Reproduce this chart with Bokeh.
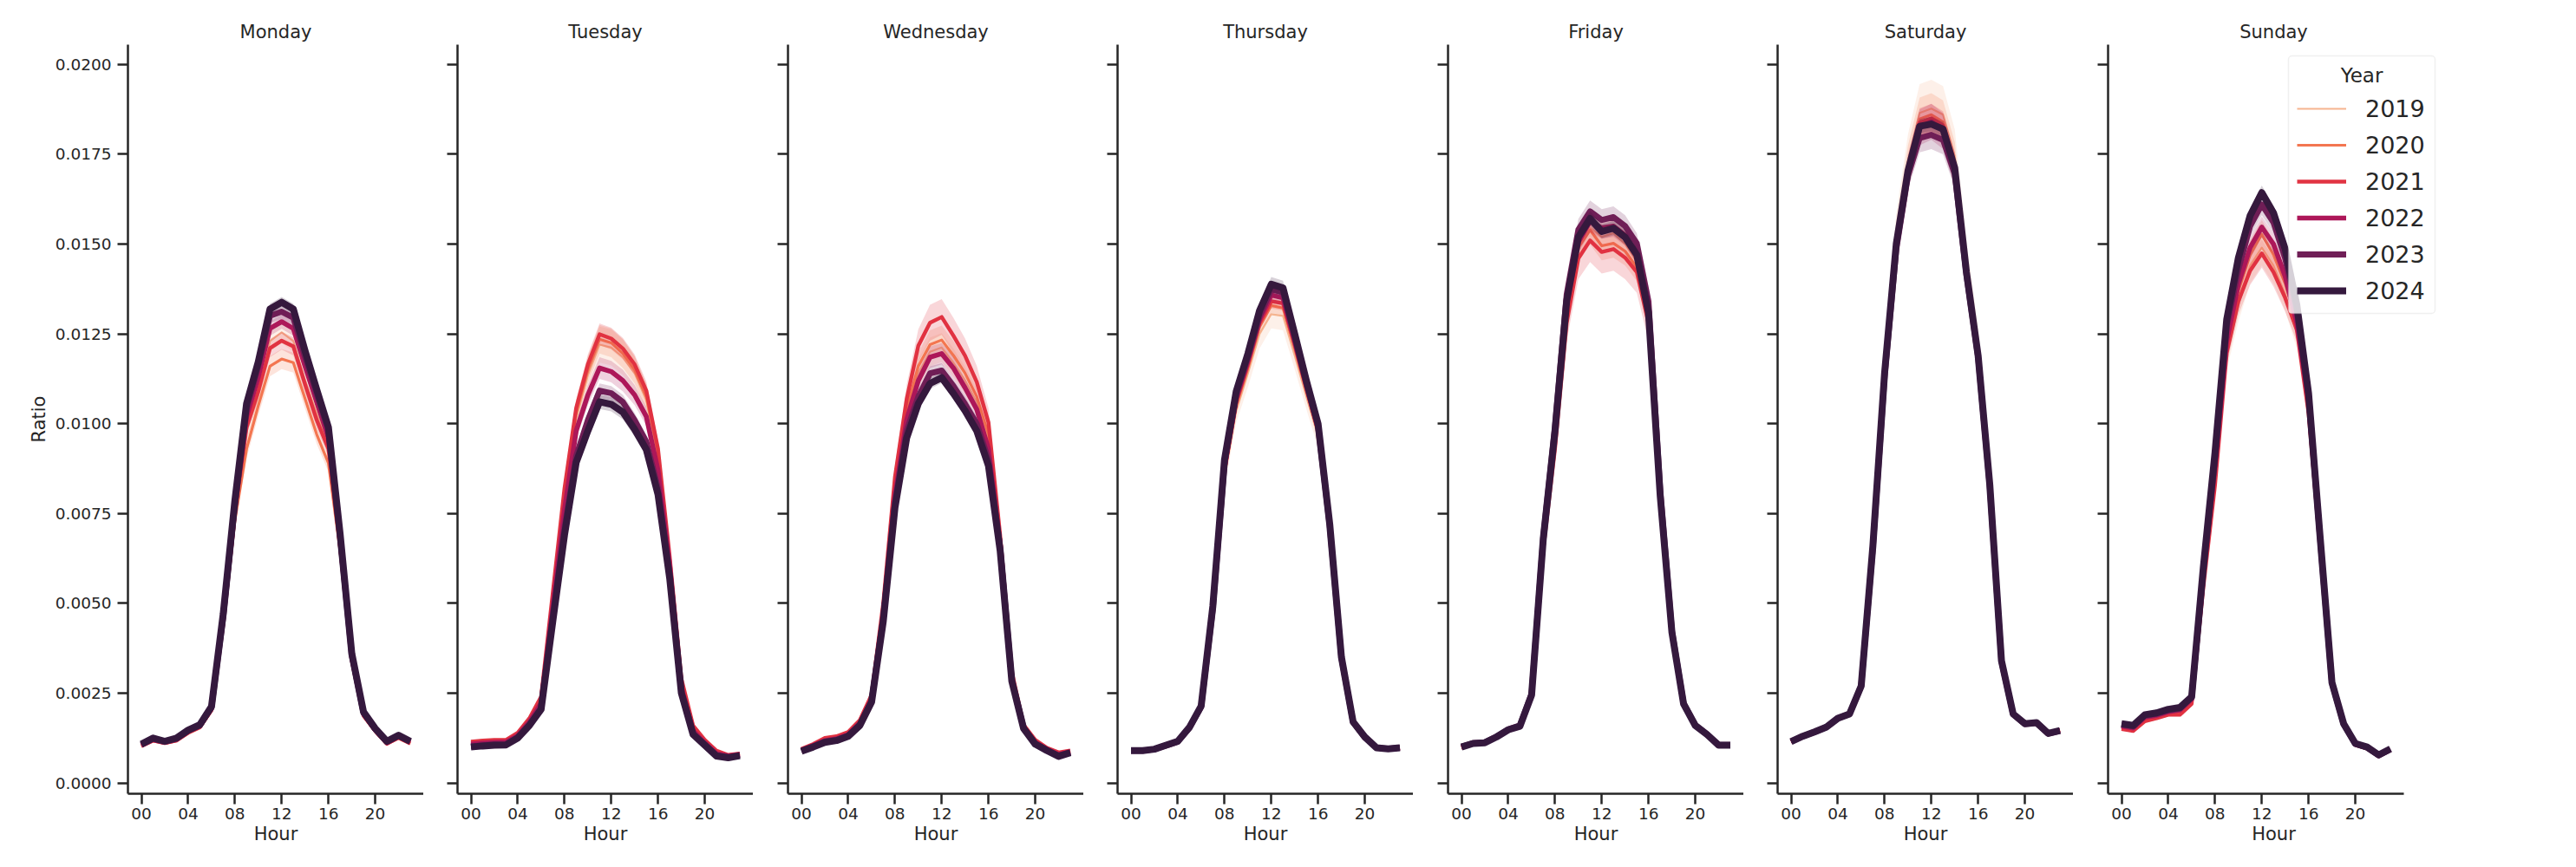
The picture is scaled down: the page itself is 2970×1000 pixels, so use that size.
from bokeh.plotting import figure
from bokeh.layouts import row
from bokeh.models import (Range1d, FixedTicker, PrintfTickFormatter, Legend, LegendItem,
                          Label, BoxAnnotation)
from bokeh.embed import file_html
from bokeh.resources import INLINE

HOURS = list(range(24))
YEARS = [2019, 2020, 2021, 2022, 2023, 2024]
DAYS = ["Monday", "Tuesday", "Wednesday", "Thursday", "Friday", "Saturday", "Sunday"]
COLORS = ["#f6b48f", "#f37651", "#e13342", "#ad1759", "#701f57", "#35193e"]
WIDTHS = [2.2, 3.2, 4.4, 5.6, 6.8, 8.0]
X_TICKS = [0, 4, 8, 12, 16, 20]
X_LABELS = ["00", "04", "08", "12", "16", "20"]
Y_TICKS = [0.0, 0.0025, 0.005, 0.0075, 0.01, 0.0125, 0.015, 0.0175, 0.02]

MONDAY = {
    2019: [0.00104,0.00119,0.00112,0.00119,0.00141,0.00156,0.00204,0.00440,0.00745,0.00980,0.01080,0.01230,0.01254,0.01230,0.01120,0.01030,0.00940,0.00665,0.00345,0.00190,0.00146,0.00110,0.00127,0.00111],
    2020: [0.00102,0.00117,0.00110,0.00117,0.00138,0.00153,0.00200,0.00435,0.00730,0.00930,0.01050,0.01160,0.01180,0.01170,0.01070,0.00970,0.00890,0.00645,0.00335,0.00185,0.00143,0.00108,0.00124,0.00109],
    2021: [0.00103,0.00118,0.00111,0.00118,0.00140,0.00155,0.00203,0.00445,0.00750,0.00990,0.01090,0.01210,0.01231,0.01215,0.01110,0.01010,0.00930,0.00660,0.00342,0.00188,0.00145,0.00109,0.00126,0.00110],
    2022: [0.00105,0.00121,0.00113,0.00121,0.00143,0.00158,0.00207,0.00455,0.00765,0.01020,0.01130,0.01265,0.01284,0.01265,0.01160,0.01060,0.00960,0.00675,0.00350,0.00192,0.00148,0.00112,0.00129,0.00113],
    2023: [0.00106,0.00123,0.00115,0.00123,0.00145,0.00160,0.00210,0.00462,0.00775,0.01040,0.01160,0.01300,0.01312,0.01295,0.01185,0.01080,0.00980,0.00685,0.00355,0.00195,0.00150,0.00114,0.00131,0.00115],
    2024: [0.00108,0.00125,0.00116,0.00125,0.00147,0.00162,0.00213,0.00470,0.00786,0.01056,0.01172,0.01319,0.01338,0.01319,0.01203,0.01095,0.00990,0.00693,0.00360,0.00198,0.00152,0.00116,0.00133,0.00116],
}
TUESDAY = {
    2019: [0.00112,0.00115,0.00117,0.00117,0.00137,0.00176,0.00233,0.00515,0.00800,0.01015,0.01135,0.01220,0.01212,0.01185,0.01140,0.01065,0.00905,0.00620,0.00282,0.00156,0.00117,0.00087,0.00076,0.00080],
    2020: [0.00113,0.00116,0.00118,0.00118,0.00138,0.00178,0.00236,0.00520,0.00810,0.01030,0.01150,0.01235,0.01225,0.01195,0.01150,0.01075,0.00915,0.00625,0.00285,0.00158,0.00118,0.00088,0.00077,0.00081],
    2021: [0.00115,0.00118,0.00120,0.00120,0.00140,0.00180,0.00240,0.00530,0.00820,0.01044,0.01165,0.01249,0.01237,0.01209,0.01165,0.01092,0.00930,0.00630,0.00290,0.00160,0.00120,0.00090,0.00078,0.00082],
    2022: [0.00108,0.00111,0.00113,0.00114,0.00132,0.00170,0.00222,0.00490,0.00760,0.00980,0.01080,0.01155,0.01145,0.01120,0.01080,0.01020,0.00870,0.00605,0.00265,0.00145,0.00112,0.00082,0.00075,0.00080],
    2023: [0.00102,0.00105,0.00107,0.00108,0.00127,0.00163,0.00210,0.00465,0.00710,0.00910,0.01010,0.01092,0.01085,0.01060,0.01010,0.00950,0.00820,0.00580,0.00255,0.00138,0.00107,0.00077,0.00072,0.00078],
    2024: [0.00100,0.00103,0.00105,0.00106,0.00125,0.00160,0.00205,0.00450,0.00690,0.00892,0.00980,0.01061,0.01054,0.01032,0.00984,0.00928,0.00803,0.00570,0.00250,0.00135,0.00105,0.00075,0.00070,0.00076],
}
WEDNESDAY = {
    2019: [0.00092,0.00105,0.00120,0.00125,0.00137,0.00169,0.00237,0.00485,0.00820,0.01025,0.01140,0.01200,0.01212,0.01170,0.01120,0.01060,0.00955,0.00675,0.00298,0.00158,0.00115,0.00095,0.00081,0.00088],
    2020: [0.00093,0.00106,0.00122,0.00127,0.00139,0.00171,0.00240,0.00490,0.00830,0.01040,0.01160,0.01220,0.01233,0.01190,0.01140,0.01075,0.00970,0.00680,0.00302,0.00160,0.00117,0.00096,0.00083,0.00089],
    2021: [0.00095,0.00108,0.00125,0.00130,0.00142,0.00175,0.00245,0.00500,0.00851,0.01068,0.01217,0.01281,0.01297,0.01245,0.01189,0.01116,0.01004,0.00690,0.00310,0.00162,0.00120,0.00098,0.00085,0.00090],
    2022: [0.00091,0.00104,0.00118,0.00123,0.00135,0.00167,0.00233,0.00470,0.00800,0.01010,0.01120,0.01185,0.01195,0.01155,0.01100,0.01040,0.00930,0.00665,0.00292,0.00156,0.00113,0.00094,0.00079,0.00087],
    2023: [0.00089,0.00102,0.00115,0.00120,0.00132,0.00163,0.00228,0.00458,0.00780,0.00980,0.01075,0.01140,0.01148,0.01105,0.01055,0.01000,0.00900,0.00655,0.00287,0.00154,0.00110,0.00092,0.00076,0.00085],
    2024: [0.00088,0.00100,0.00113,0.00118,0.00130,0.00160,0.00225,0.00450,0.00766,0.00960,0.01056,0.01112,0.01128,0.01084,0.01036,0.00980,0.00883,0.00647,0.00283,0.00152,0.00108,0.00090,0.00074,0.00084],
}
THURSDAY = {
    2019: [0.00088,0.00088,0.00092,0.00102,0.00113,0.00150,0.00207,0.00462,0.00850,0.01035,0.01140,0.01250,0.01305,0.01300,0.01190,0.01075,0.00965,0.00700,0.00340,0.00165,0.00124,0.00096,0.00093,0.00096],
    2020: [0.00088,0.00088,0.00092,0.00103,0.00114,0.00151,0.00208,0.00470,0.00862,0.01050,0.01155,0.01270,0.01329,0.01322,0.01210,0.01090,0.00975,0.00705,0.00342,0.00166,0.00125,0.00096,0.00093,0.00096],
    2021: [0.00089,0.00089,0.00093,0.00103,0.00114,0.00152,0.00210,0.00475,0.00870,0.01060,0.01165,0.01280,0.01341,0.01335,0.01220,0.01098,0.00980,0.00708,0.00344,0.00167,0.00126,0.00097,0.00094,0.00097],
    2022: [0.00089,0.00089,0.00093,0.00104,0.00115,0.00153,0.00211,0.00480,0.00880,0.01070,0.01175,0.01290,0.01358,0.01350,0.01230,0.01105,0.00987,0.00712,0.00346,0.00168,0.00126,0.00097,0.00094,0.00097],
    2023: [0.00090,0.00090,0.00094,0.00104,0.00115,0.00154,0.00212,0.00485,0.00890,0.01080,0.01185,0.01300,0.01374,0.01365,0.01240,0.01112,0.00993,0.00715,0.00348,0.00169,0.00127,0.00098,0.00095,0.00098],
    2024: [0.00090,0.00090,0.00094,0.00105,0.00116,0.00155,0.00214,0.00492,0.00900,0.01090,0.01195,0.01315,0.01388,0.01378,0.01250,0.01120,0.01000,0.00720,0.00350,0.00170,0.00128,0.00098,0.00095,0.00098],
}
FRIDAY = {
    2019: [0.00099,0.00109,0.00111,0.00127,0.00146,0.00156,0.00242,0.00665,0.00950,0.01310,0.01500,0.01545,0.01520,0.01530,0.01500,0.01450,0.01300,0.00790,0.00415,0.00218,0.00158,0.00133,0.00104,0.00104],
    2020: [0.00099,0.00109,0.00111,0.00127,0.00146,0.00156,0.00242,0.00660,0.00945,0.01300,0.01490,0.01539,0.01495,0.01502,0.01480,0.01435,0.01290,0.00785,0.00413,0.00217,0.00158,0.00133,0.00104,0.00104],
    2021: [0.00098,0.00108,0.00110,0.00126,0.00145,0.00155,0.00240,0.00650,0.00930,0.01280,0.01460,0.01510,0.01478,0.01486,0.01462,0.01422,0.01280,0.00780,0.00410,0.00216,0.00157,0.00132,0.00103,0.00103],
    2022: [0.00100,0.00110,0.00112,0.00128,0.00147,0.00157,0.00244,0.00675,0.00970,0.01330,0.01505,0.01563,0.01545,0.01550,0.01525,0.01475,0.01320,0.00800,0.00418,0.00219,0.00159,0.00134,0.00104,0.00104],
    2023: [0.00101,0.00111,0.00113,0.00129,0.00149,0.00160,0.00248,0.00685,0.00990,0.01360,0.01540,0.01591,0.01567,0.01575,0.01550,0.01502,0.01340,0.00815,0.00425,0.00222,0.00161,0.00136,0.00106,0.00106],
    2024: [0.00100,0.00110,0.00112,0.00128,0.00148,0.00158,0.00245,0.00680,0.00980,0.01341,0.01519,0.01571,0.01535,0.01544,0.01519,0.01470,0.01309,0.00800,0.00420,0.00220,0.00160,0.00135,0.00105,0.00105],
}
SATURDAY = {
    2019: [0.00115,0.00130,0.00142,0.00155,0.00180,0.00192,0.00270,0.00668,0.01155,0.01520,0.01730,0.01865,0.01877,0.01860,0.01745,0.01445,0.01210,0.00845,0.00346,0.00195,0.00167,0.00170,0.00140,0.00148],
    2020: [0.00115,0.00130,0.00142,0.00155,0.00180,0.00192,0.00270,0.00665,0.01150,0.01510,0.01718,0.01848,0.01860,0.01840,0.01728,0.01435,0.01200,0.00840,0.00344,0.00194,0.00166,0.00169,0.00139,0.00147],
    2021: [0.00115,0.00130,0.00142,0.00155,0.00180,0.00192,0.00270,0.00662,0.01145,0.01505,0.01710,0.01838,0.01850,0.01830,0.01720,0.01428,0.01195,0.00835,0.00342,0.00193,0.00166,0.00169,0.00139,0.00147],
    2022: [0.00115,0.00130,0.00142,0.00155,0.00180,0.00192,0.00270,0.00658,0.01135,0.01495,0.01700,0.01825,0.01840,0.01815,0.01705,0.01420,0.01188,0.00828,0.00339,0.00192,0.00165,0.00168,0.00138,0.00146],
    2023: [0.00115,0.00130,0.00142,0.00155,0.00180,0.00192,0.00270,0.00655,0.01130,0.01485,0.01690,0.01795,0.01804,0.01790,0.01695,0.01415,0.01185,0.00825,0.00338,0.00191,0.00164,0.00167,0.00137,0.00145],
    2024: [0.00115,0.00130,0.00142,0.00155,0.00180,0.00192,0.00270,0.00660,0.01140,0.01500,0.01703,0.01828,0.01834,0.01820,0.01712,0.01422,0.01190,0.00830,0.00340,0.00192,0.00165,0.00168,0.00138,0.00146],
}
SUNDAY = {
    2019: [0.00153,0.00148,0.00176,0.00183,0.00193,0.00196,0.00225,0.00555,0.00845,0.01190,0.01330,0.01440,0.01490,0.01440,0.01360,0.01250,0.01030,0.00655,0.00272,0.00161,0.00107,0.00097,0.00076,0.00092],
    2020: [0.00155,0.00150,0.00178,0.00185,0.00195,0.00198,0.00228,0.00565,0.00860,0.01220,0.01370,0.01470,0.01527,0.01470,0.01390,0.01280,0.01050,0.00660,0.00273,0.00162,0.00107,0.00097,0.00076,0.00092],
    2021: [0.00150,0.00145,0.00172,0.00180,0.00190,0.00190,0.00220,0.00545,0.00830,0.01197,0.01341,0.01426,0.01474,0.01422,0.01350,0.01261,0.01030,0.00650,0.00270,0.00160,0.00106,0.00096,0.00075,0.00091],
    2022: [0.00158,0.00153,0.00183,0.00188,0.00198,0.00203,0.00233,0.00575,0.00880,0.01230,0.01390,0.01490,0.01547,0.01500,0.01410,0.01280,0.01060,0.00668,0.00276,0.00163,0.00108,0.00098,0.00076,0.00093],
    2023: [0.00162,0.00157,0.00187,0.00192,0.00202,0.00207,0.00237,0.00590,0.00905,0.01270,0.01430,0.01550,0.01610,0.01560,0.01460,0.01310,0.01080,0.00675,0.00278,0.00164,0.00109,0.00099,0.00077,0.00094],
    2024: [0.00165,0.00160,0.00190,0.00195,0.00205,0.00210,0.00240,0.00600,0.00920,0.01290,0.01462,0.01579,0.01643,0.01587,0.01486,0.01330,0.01085,0.00680,0.00280,0.00165,0.00110,0.00100,0.00078,0.00095],
}

# 95% confidence half-widths, in units of CI_UNIT
CI_UNIT = 1e-5
MONDAY_CI = {
    2019: [4,4,4,4,5,5,6,12,22,28,30,30,30,30,30,28,26,18,9,5,4,4,4,4],
    2020: [4,4,4,4,5,5,6,12,20,26,28,28,28,28,28,26,24,16,9,5,4,4,4,4],
    2021: [3,3,3,3,4,4,5,10,18,22,24,25,25,25,24,22,20,14,8,4,3,3,3,3],
    2022: [3,3,3,3,4,4,5,9,15,18,20,20,20,20,20,18,17,12,7,4,3,3,3,3],
    2023: [3,3,3,3,4,4,5,9,15,18,20,20,20,20,20,18,17,12,7,4,3,3,3,3],
    2024: [3,3,3,3,3,4,4,8,12,14,15,15,15,15,15,14,13,10,6,3,3,3,3,3],
}
TUESDAY_CI = {
    2019: [5,5,5,5,5,6,7,15,30,40,48,50,50,50,48,45,40,25,10,6,5,4,4,4],
    2020: [4,4,4,4,5,5,6,13,26,34,38,40,40,40,38,36,32,20,9,5,4,4,4,4],
    2021: [4,4,4,4,4,5,6,11,20,26,28,30,30,30,28,26,24,16,8,5,4,3,3,3],
    2022: [3,3,3,3,4,4,5,10,18,24,28,30,30,30,28,26,22,14,7,4,3,3,3,3],
    2023: [3,3,3,3,3,4,5,9,15,18,20,20,20,20,20,18,16,12,6,4,3,3,3,3],
    2024: [3,3,3,3,3,4,4,8,14,18,20,20,20,20,20,18,15,11,6,3,3,3,3,3],
}
WEDNESDAY_CI = {
    2019: [4,4,4,4,5,5,6,12,25,32,38,40,40,40,38,36,32,20,9,5,4,4,4,4],
    2020: [4,4,4,4,5,5,6,12,25,32,38,40,40,40,38,36,32,20,9,5,4,4,4,4],
    2021: [4,4,4,4,5,5,6,14,30,40,46,50,50,50,48,45,40,25,10,5,4,4,4,4],
    2022: [3,3,3,3,4,4,5,10,18,24,28,30,30,30,28,26,22,14,7,4,3,3,3,3],
    2023: [3,3,3,3,3,4,5,9,14,18,20,20,20,20,20,18,16,12,6,4,3,3,3,3],
    2024: [3,3,3,3,3,4,4,8,12,14,15,15,15,15,15,14,13,10,6,3,3,3,3,3],
}
THURSDAY_CI = {
    2019: [3,3,3,4,4,5,6,12,25,32,38,40,40,40,38,35,32,20,9,5,4,3,3,3],
    2020: [3,3,3,3,4,4,5,8,14,18,20,20,20,20,20,18,16,12,6,4,3,3,3,3],
    2021: [3,3,3,3,4,4,5,8,14,18,20,20,20,20,20,18,16,12,6,4,3,3,3,3],
    2022: [3,3,3,3,4,4,5,8,14,18,20,20,20,20,20,18,16,12,6,4,3,3,3,3],
    2023: [3,3,3,3,4,4,5,8,14,18,20,20,20,20,20,18,16,12,6,4,3,3,3,3],
    2024: [3,3,3,3,4,4,5,8,14,18,20,20,20,20,20,18,16,12,6,4,3,3,3,3],
}
FRIDAY_CI = {
    2019: [4,4,4,4,5,5,7,15,25,35,40,40,40,40,40,38,35,22,10,5,4,4,4,4],
    2020: [4,4,4,4,5,5,7,15,25,35,40,40,40,40,40,38,35,22,10,5,4,4,4,4],
    2021: [4,4,4,4,5,5,7,18,35,50,58,60,60,60,60,58,50,30,12,6,4,4,4,4],
    2022: [3,3,3,4,4,4,6,12,20,26,30,30,30,30,30,28,25,16,8,4,3,3,3,3],
    2023: [3,3,3,4,4,4,6,12,20,26,30,30,30,30,30,28,25,16,8,4,3,3,3,3],
    2024: [3,3,3,3,4,4,5,9,14,18,20,20,20,20,20,18,16,12,6,4,3,3,3,3],
}
SATURDAY_CI = {
    2019: [4,4,5,5,5,6,8,20,45,65,75,80,80,80,75,65,55,35,12,6,5,5,5,5],
    2020: [4,4,5,5,5,6,8,16,35,50,56,60,60,60,56,50,42,28,10,5,4,4,4,4],
    2021: [4,4,4,4,5,5,7,12,24,32,38,40,40,40,38,34,30,20,8,5,4,4,4,4],
    2022: [4,4,4,4,5,5,7,14,28,40,46,50,50,50,46,42,36,22,9,5,4,4,4,4],
    2023: [4,4,4,4,5,5,7,12,24,32,38,40,40,40,38,34,30,20,8,5,4,4,4,4],
    2024: [3,3,3,3,4,4,5,9,14,18,20,20,20,20,20,18,16,12,6,4,3,3,3,3],
}
SUNDAY_CI = {
    2019: [5,5,5,5,5,5,6,14,28,40,46,50,50,50,46,42,36,22,9,5,4,4,4,4],
    2020: [4,4,5,5,5,5,6,12,24,32,38,40,40,40,38,34,30,20,8,5,4,4,4,4],
    2021: [4,4,5,5,5,5,6,12,24,32,38,40,40,40,38,34,30,20,8,5,4,4,4,4],
    2022: [4,4,4,4,4,4,5,10,18,24,28,30,30,30,28,26,22,14,7,4,3,3,3,3],
    2023: [4,4,4,4,4,4,5,10,18,24,28,30,30,30,28,26,22,14,7,4,3,3,3,3],
    2024: [3,3,3,3,4,4,5,9,14,18,20,20,20,20,20,18,16,12,6,4,3,3,3,3],
}

DATA = dict(zip(DAYS, [MONDAY, TUESDAY, WEDNESDAY, THURSDAY, FRIDAY, SATURDAY, SUNDAY]))
CI = dict(zip(DAYS, [MONDAY_CI, TUESDAY_CI, WEDNESDAY_CI, THURSDAY_CI, FRIDAY_CI, SATURDAY_CI, SUNDAY_CI]))

FONT = "DejaVu Sans"
INK = "#262626"
LEFT_BORDERS = [147, 39, 40, 39, 40, 39, 40]
X_START, X_END = -1.15, 24.15
FRAME_W = 341
# the last panel's frame is widened so the legend that overlaps it is not clipped;
# its x axis is bounded to the same hour span as the others
LAST_FRAME_W = 382
LAST_X_END = X_START + (X_END - X_START) * LAST_FRAME_W / FRAME_W

y_range = Range1d(-0.0003, 0.02055)
figs = []
for i, day in enumerate(DAYS):
    last = (i == 6)
    p = figure(frame_width=(LAST_FRAME_W if last else FRAME_W), frame_height=864,
               x_range=Range1d(X_START, LAST_X_END if last else X_END), y_range=y_range,
               output_backend="svg", toolbar_location=None,
               min_border_left=LEFT_BORDERS[i],
               min_border_right=(20 if last else 0),
               min_border_top=51, min_border_bottom=80,
               title=day)
    p.outline_line_color = None
    p.xgrid.grid_line_color = None
    p.ygrid.grid_line_color = None
    p.background_fill_color = "white"
    p.border_fill_color = "white"

    p.title.align = "center"
    p.title.text_font = FONT
    p.title.text_font_size = "21px"
    p.title.text_font_style = "normal"
    p.title.text_color = INK
    p.title.standoff = 5

    for ax in (p.xaxis[0], p.yaxis[0]):
        ax.axis_line_width = 2.5
        ax.axis_line_color = INK
        ax.major_tick_line_width = 2.5
        ax.major_tick_line_color = INK
        ax.major_tick_out = 12
        ax.major_tick_in = 0
        ax.minor_tick_line_color = None
        ax.major_label_text_font = FONT
        ax.major_label_text_font_size = "18.5px"
        ax.major_label_text_color = INK
        ax.axis_label_text_font = FONT
        ax.axis_label_text_font_size = "21px"
        ax.axis_label_text_font_style = "normal"
        ax.axis_label_text_color = INK

    p.xaxis.ticker = FixedTicker(ticks=X_TICKS)
    p.xaxis.major_label_overrides = dict(zip(X_TICKS, X_LABELS))
    p.xaxis.major_label_standoff = 4
    p.xaxis.axis_label = "Hour"
    p.xaxis.axis_label_standoff = 2
    p.xaxis.bounds = (X_START, X_END)

    p.yaxis.ticker = FixedTicker(ticks=Y_TICKS)
    if i == 0:
        p.yaxis.formatter = PrintfTickFormatter(format="%.4f")
        p.yaxis.major_label_standoff = 7
        p.yaxis.axis_label = "Ratio"
        p.yaxis.axis_label_standoff = 4
    else:
        p.yaxis.major_label_overrides = {t: "" for t in Y_TICKS}
        p.yaxis.major_label_standoff = 0

    line_renderers = []
    for j, yr in enumerate(YEARS):
        vals = DATA[day][yr]
        hw = CI[day][yr]
        r = p.line(HOURS, vals, line_color=COLORS[j], line_width=WIDTHS[j],
                   line_join="round", line_cap="butt")
        lower = [v - h * CI_UNIT for v, h in zip(vals, hw)]
        upper = [v + h * CI_UNIT for v, h in zip(vals, hw)]
        p.varea(x=HOURS, y1=lower, y2=upper, fill_color=COLORS[j], fill_alpha=0.2)
        line_renderers.append(r)

    if last:
        box = BoxAnnotation(left=208, right=377, bottom=554, top=851,
                            left_units="screen", right_units="screen",
                            bottom_units="screen", top_units="screen",
                            fill_color="white", fill_alpha=0.8,
                            line_color="#cccccc", line_width=1.5,
                            border_radius=4, level="annotation")
        p.add_layout(box)
        p.add_layout(Label(x=292.5, y=829, x_units="screen", y_units="screen",
                           text="Year", text_align="center", text_baseline="middle",
                           text_font=FONT, text_font_size="23px", text_color=INK))
        legend = Legend(items=[LegendItem(label=str(yr), renderers=[r])
                               for yr, r in zip(YEARS, line_renderers)],
                        location=(218, 564))
        legend.label_text_font = FONT
        legend.label_text_font_size = "27px"
        legend.label_text_color = INK
        legend.label_standoff = 22
        legend.glyph_width = 57
        legend.glyph_height = 32
        legend.label_height = 32
        legend.spacing = 10
        legend.padding = 0
        legend.margin = 0
        legend.border_line_color = None
        legend.background_fill_alpha = 0
        p.add_layout(legend)

    figs.append(p)

layout = row(*figs, spacing=0)
open("out.html", "w").write(file_html(layout, INLINE))
